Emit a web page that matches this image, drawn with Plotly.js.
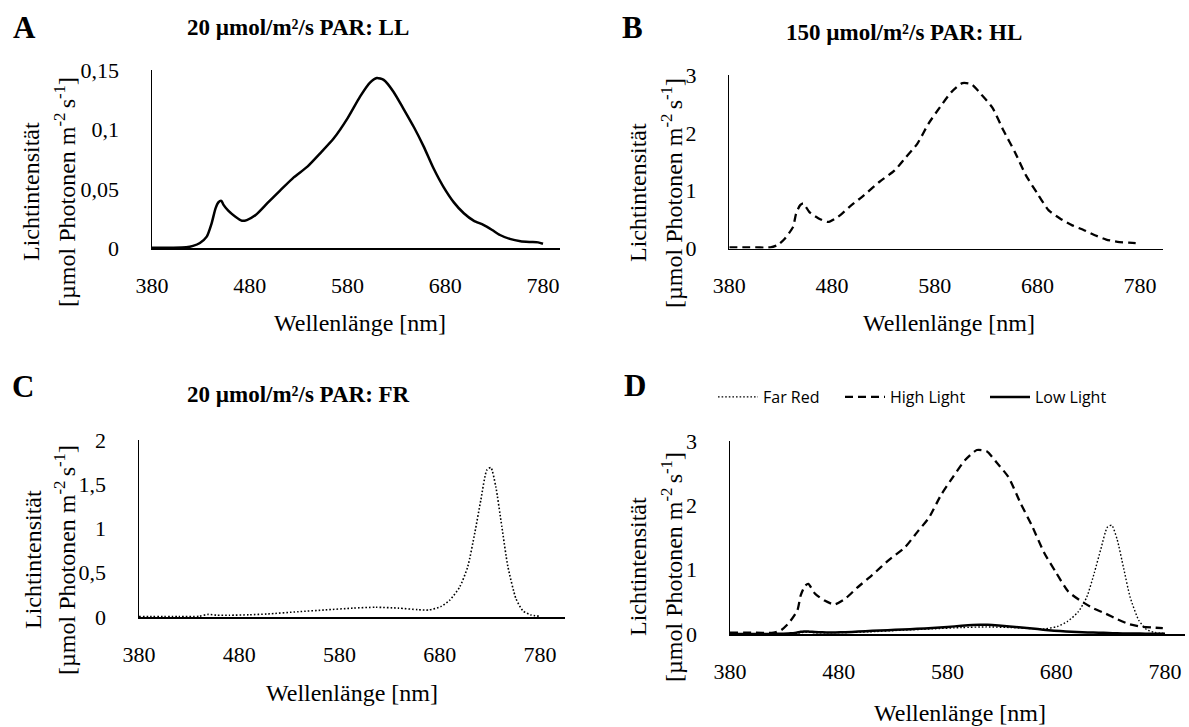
<!DOCTYPE html>
<html>
<head>
<meta charset="utf-8">
<script src="https://cdn.plot.ly/plotly-3.0.1.min.js"></script>
<style>html,body{margin:0;padding:0;background:#fff}#chart{width:1189px;height:727px}</style>
</head>
<body>
<div id="chart"></div>
<script>
// ---- Data ----
const wl_LL = [380,400,415,422,429,436,441,445,448,451,453,458,465,472,477,486,498,511,525,539,552,566,580,593,603,610,617,627,637,648,658,668,678,689,699,709,719,728,736,746,757,767,775,780];
const LL    = [0.0005,0.0005,0.0008,0.002,0.0045,0.0098,0.021,0.0337,0.0388,0.0399,0.0368,0.0317,0.0268,0.0232,0.0238,0.028,0.038,0.0486,0.0598,0.0688,0.080,0.0927,0.1095,0.128,0.1396,0.1435,0.1419,0.132,0.118,0.102,0.0857,0.0674,0.052,0.0385,0.0295,0.0233,0.0197,0.0154,0.0112,0.0079,0.0059,0.0053,0.0050,0.0038];

const wl_HL = [380,400,420,427,434,442,445,449,452,458,467,476,486,497,511,526,541,552,563,574,585,596,607,616,625,636,647,658,669,680,691,702,714,725,736,747,758,769,778];
const HL    = [0.02,0.02,0.02,0.06,0.17,0.37,0.6,0.75,0.78,0.63,0.52,0.46,0.55,0.72,0.92,1.15,1.35,1.58,1.81,2.16,2.44,2.70,2.86,2.84,2.67,2.44,2.04,1.67,1.26,0.95,0.66,0.52,0.40,0.32,0.23,0.155,0.115,0.10,0.09];

const wl_FR = [380,420,440,449,458,470,490,508,539,566,593,616,639,658,669,681,690,700,708,715,721,727,731,736,742,748,756,763,771,780];
const FR    = [0.005,0.005,0.008,0.03,0.02,0.02,0.025,0.034,0.06,0.08,0.10,0.11,0.10,0.083,0.079,0.117,0.19,0.34,0.57,0.95,1.32,1.66,1.69,1.47,1.02,0.57,0.21,0.07,0.023,0.008];

const xTicks = [380,480,580,680,780];
const panelTitles = ["20 µmol/m²/s PAR: LL", "150 µmol/m²/s PAR: HL", "20 µmol/m²/s PAR: FR"];
const panelLetters = ["A","B","C","D"];
const legendNames = ["Far Red","High Light","Low Light"];
const yTitle1 = "Lichtintensität";
const yTitle2 = "[µmol Photonen m<sup>-2 </sup>s<sup>-1</sup>]";
const xTitle = "Wellenlänge [nm]";

// ---- Layout helpers ----
const W = 1189, H = 727;
const px = x => x / W;
const py = y => 1 - y / H;
const SERIF = "Liberation Serif";
const SANS = "Open Sans";

function xa(x0, x1, rmax, anchor) {
  return {domain:[px(x0), px(x1)], range:[380, rmax], anchor:anchor,
    tickvals:xTicks, ticks:"", showgrid:false, zeroline:false,
    showline:true, linecolor:"#000", linewidth:1.5,
    tickfont:{family:SERIF, size:22, color:"#000"}, ticklabelstandoff:17, fixedrange:true};
}
function ya(top, bot, rmax, dtick, anchor) {
  return {domain:[py(bot), py(top)], range:[0, rmax], anchor:anchor,
    dtick:dtick, tick0:0, ticks:"", showgrid:false, zeroline:false,
    showline:true, linecolor:"#000", linewidth:1.5,
    tickfont:{family:SERIF, size:22, color:"#000"}, ticklabelstandoff:27, fixedrange:true};
}

const solid = {color:"#000", width:2.5, shape:"spline", smoothing:0.6};
const dashed = {color:"#000", width:2.3, dash:"8px,5px", shape:"spline", smoothing:0.6};
const dotted = {color:"#000", width:1.6, dash:"1.6px,2px", shape:"spline", smoothing:0.6};

const traces = [
  {x:wl_LL, y:LL, xaxis:"x", yaxis:"y", mode:"lines", line:solid, showlegend:false},
  {x:wl_HL, y:HL, xaxis:"x2", yaxis:"y2", mode:"lines", line:dashed, showlegend:false},
  {x:wl_FR, y:FR, xaxis:"x3", yaxis:"y3", mode:"lines", line:dotted, showlegend:false},
  {x:wl_FR, y:FR, xaxis:"x4", yaxis:"y4", mode:"lines", name:legendNames[0], line:Object.assign({}, dotted, {width:1.4}), legend:"legend"},
  {x:wl_HL, y:HL, xaxis:"x4", yaxis:"y4", mode:"lines", name:legendNames[1], line:dashed, legend:"legend2"},
  {x:wl_LL, y:LL, xaxis:"x4", yaxis:"y4", mode:"lines", name:legendNames[2], line:solid, legend:"legend3"}
];

const annotations = [];
function ann(text, x, y, size, bold, angle) {
  annotations.push({text: bold ? "<b>"+text+"</b>" : text, x:px(x), y:py(y), xref:"paper", yref:"paper",
    xanchor:"center", yanchor:"middle", showarrow:false, textangle:angle||0,
    font:{family:SERIF, size:size, color:"#000"}});
}
// panel letters
[[24,28],[632,27],[23,386],[635,385]].forEach((p,i)=>ann(panelLetters[i], p[0], p[1], 31, true));
// panel titles
[[298,27],[904,32],[298,395]].forEach((p,i)=>ann(panelTitles[i], p[0], p[1], 23, true));
// y titles
[[31,65,192],[638,672,193],[33,65,560],[638,672,567]].forEach(p=>{
  ann(yTitle1, p[0], p[2], 24, false, -90);
  ann(yTitle2, p[1], p[2], 24, false, -90);
});
// x titles
[[360,323],[949,323],[352,693],[960,713]].forEach(p=>ann(xTitle, p[0], p[1], 24, false));

function leg(x) {
  return {x:px(x), y:py(397), xanchor:"left", yanchor:"middle", orientation:"h",
    bgcolor:"rgba(0,0,0,0)", borderwidth:0, itemwidth:40,
    font:{family:SANS, size:16, color:"#000"}};
}

const layout = {
  width:W, height:H, margin:{l:0,r:0,t:0,b:0},
  paper_bgcolor:"#fff", plot_bgcolor:"#fff", separators:", ",
  font:{family:SERIF, color:"#000"},
  showlegend:true,
  legend:leg(713), legend2:leg(840), legend3:leg(985),
  xaxis: xa(152, 560, 797.4, "y"),   yaxis: ya(70.3, 248.3, 0.15, 0.05, "x"),
  xaxis2:xa(729.3, 1163, 802.3, "y2"), yaxis2:ya(75, 248.5, 3, 1, "x2"),
  xaxis3:xa(139, 565, 805, "y3"),     yaxis3:ya(440, 617, 2, 0.5, "x3"),
  xaxis4:xa(730, 1185, 798.4, "y4"),  yaxis4:ya(441, 634, 3, 1, "x4"),
  annotations:annotations
};

Plotly.newPlot("chart", traces, layout, {staticPlot:true, displayModeBar:false});
</script>
</body>
</html>
